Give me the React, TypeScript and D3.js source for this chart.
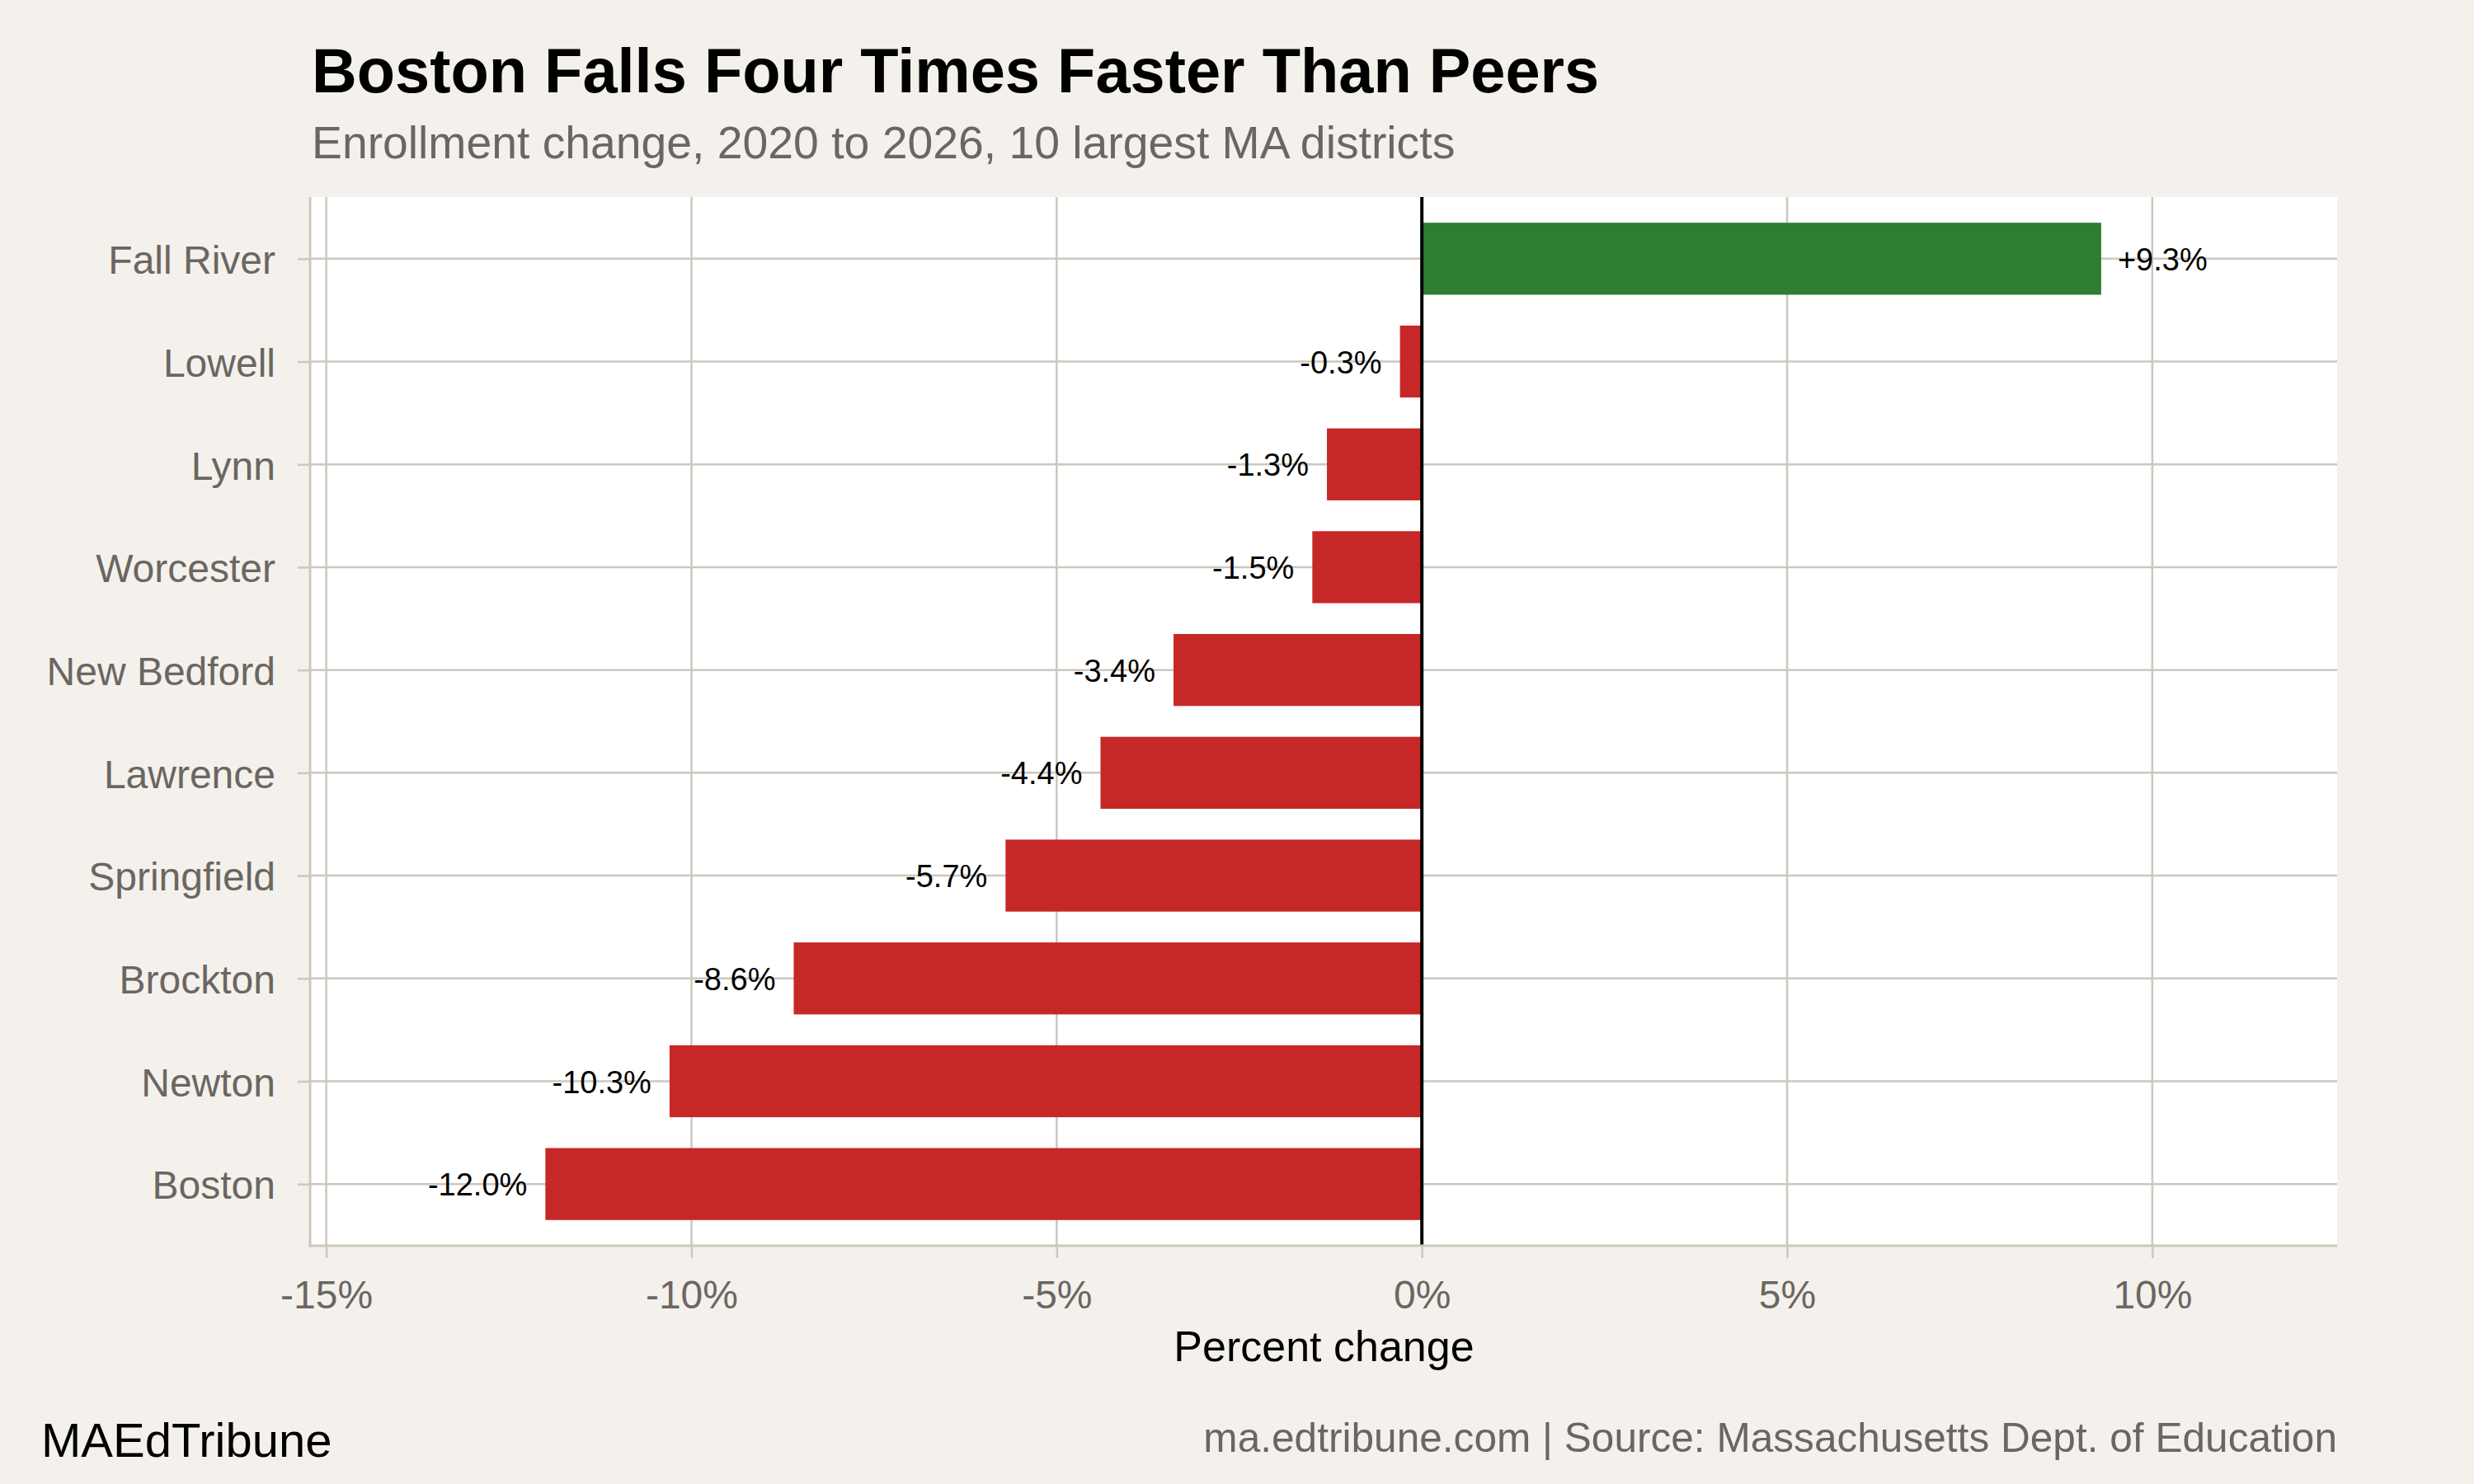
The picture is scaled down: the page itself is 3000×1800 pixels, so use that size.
import React, { useRef, useEffect } from "react";
import * as d3 from "d3";

const districts = [
  "Fall River",
  "Lowell",
  "Lynn",
  "Worcester",
  "New Bedford",
  "Lawrence",
  "Springfield",
  "Brockton",
  "Newton",
  "Boston",
];
const changes = [9.3, -0.3, -1.3, -1.5, -3.4, -4.4, -5.7, -8.6, -10.3, -12.0];
const xTicks = [-15, -10, -5, 0, 5, 10];

const width = 3000;
const height = 1800;
const panel = { left: 377, right: 2834, top: 239, bottom: 1511 };

const bg = "#f4f1ec";
const gridColor = "#cdc7bd";
const grayText = "#6b6661";
const font = "'Liberation Sans', Arial, Helvetica, sans-serif";

const App: React.FC = () => {
  const svgRef = useRef<SVGSVGElement | null>(null);

  useEffect(() => {
    if (!svgRef.current) return;
    const svg = d3.select(svgRef.current);
    svg.selectAll("*").remove();

    const x = d3
      .scaleLinear()
      .domain([-15.21, 12.53])
      .range([panel.left, panel.right]);

    // ggplot-style discrete axis: 0.6 unit padding each side
    const y = d3
      .scalePoint<string>()
      .domain(districts)
      .range([panel.top, panel.bottom])
      .padding(0.6);
    const step = y.step();
    const barH = step * 0.7;

    const data = districts.map((name, i) => ({ name, value: changes[i] }));

    svg.append("rect").attr("width", width).attr("height", height).attr("fill", bg);

    // panel
    svg
      .append("rect")
      .attr("x", panel.left)
      .attr("y", panel.top)
      .attr("width", panel.right - panel.left)
      .attr("height", panel.bottom - panel.top)
      .attr("fill", "#ffffff");

    // vertical grid
    svg
      .append("g")
      .selectAll("line")
      .data(xTicks)
      .join("line")
      .attr("x1", (d) => x(d))
      .attr("x2", (d) => x(d))
      .attr("y1", panel.top)
      .attr("y2", panel.bottom)
      .attr("stroke", gridColor)
      .attr("stroke-width", 2.5);

    // horizontal grid
    svg
      .append("g")
      .selectAll("line")
      .data(districts)
      .join("line")
      .attr("x1", panel.left)
      .attr("x2", panel.right)
      .attr("y1", (d) => y(d)!)
      .attr("y2", (d) => y(d)!)
      .attr("stroke", gridColor)
      .attr("stroke-width", 2.5);

    // bars
    svg
      .append("g")
      .selectAll("rect")
      .data(data)
      .join("rect")
      .attr("x", (d) => x(Math.min(0, d.value)))
      .attr("width", (d) => Math.abs(x(d.value) - x(0)))
      .attr("y", (d) => y(d.name)! - barH / 2)
      .attr("height", barH)
      .attr("fill", (d) => (d.value >= 0 ? "#2e7d32" : "#c62828"));

    // zero line
    svg
      .append("line")
      .attr("x1", x(0))
      .attr("x2", x(0))
      .attr("y1", panel.top)
      .attr("y2", panel.bottom)
      .attr("stroke", "#000")
      .attr("stroke-width", 4);

    // value labels
    svg
      .append("g")
      .selectAll("text")
      .data(data)
      .join("text")
      .attr("x", (d) => (d.value >= 0 ? x(d.value) + 20 : x(d.value) - 22))
      .attr("y", (d) => y(d.name)!)
      .attr("dy", "0.37em")
      .attr("text-anchor", (d) => (d.value >= 0 ? "start" : "end"))
      .attr("font-family", font)
      .attr("font-size", 38)
      .attr("fill", "#000")
      .text((d) => `${d.value >= 0 ? "+" : ""}${d.value.toFixed(1)}%`);

    // axis lines
    svg
      .append("line")
      .attr("x1", panel.left - 1)
      .attr("x2", panel.left - 1)
      .attr("y1", panel.top)
      .attr("y2", panel.bottom + 1.5)
      .attr("stroke", gridColor)
      .attr("stroke-width", 3);
    svg
      .append("line")
      .attr("x1", panel.left - 2.5)
      .attr("x2", panel.right)
      .attr("y1", panel.bottom)
      .attr("y2", panel.bottom)
      .attr("stroke", gridColor)
      .attr("stroke-width", 3);

    // y axis
    const yAxis = svg
      .append("g")
      .attr("transform", `translate(${panel.left - 1},0)`)
      .call(d3.axisLeft(y).tickSize(15).tickPadding(27));
    yAxis.select(".domain").remove();
    yAxis.selectAll("line").attr("stroke", gridColor).attr("stroke-width", 2.5);
    yAxis
      .selectAll("text")
      .attr("font-family", font)
      .attr("font-size", 48)
      .attr("fill", grayText)
      .attr("dy", "0.37em");

    // x axis
    const xAxis = svg
      .append("g")
      .attr("transform", `translate(0,${panel.bottom})`)
      .call(
        d3
          .axisBottom(x)
          .tickValues(xTicks)
          .tickSize(15)
          .tickPadding(61)
          .tickFormat((d) => `${d}%`)
      );
    xAxis.select(".domain").remove();
    xAxis.selectAll("line").attr("stroke", gridColor).attr("stroke-width", 2.5);
    xAxis
      .selectAll("text")
      .attr("font-family", font)
      .attr("font-size", 48)
      .attr("fill", grayText)
      .attr("dy", "0");

    // axis title
    svg
      .append("text")
      .attr("x", (panel.left + panel.right) / 2)
      .attr("y", 1651)
      .attr("text-anchor", "middle")
      .attr("font-family", font)
      .attr("font-size", 52)
      .attr("fill", "#000")
      .text("Percent change");

    // titles
    svg
      .append("text")
      .attr("x", 378)
      .attr("y", 112)
      .attr("font-family", font)
      .attr("font-weight", "bold")
      .attr("font-size", 75.8)
      .attr("fill", "#000")
      .text("Boston Falls Four Times Faster Than Peers");

    svg
      .append("text")
      .attr("x", 378)
      .attr("y", 192)
      .attr("font-family", font)
      .attr("font-size", 55.3)
      .attr("fill", grayText)
      .text("Enrollment change, 2020 to 2026, 10 largest MA districts");

    // captions
    svg
      .append("text")
      .attr("x", 50)
      .attr("y", 1767)
      .attr("font-family", font)
      .attr("font-size", 58)
      .attr("fill", "#000")
      .text("MAEdTribune");

    svg
      .append("text")
      .attr("x", panel.right)
      .attr("y", 1761)
      .attr("text-anchor", "end")
      .attr("font-family", font)
      .attr("font-size", 49.6)
      .attr("fill", grayText)
      .text("ma.edtribune.com | Source: Massachusetts Dept. of Education");
  }, []);

  return (
    <svg
      ref={svgRef}
      width={width}
      height={height}
      style={{ position: "absolute", left: 0, top: 0, display: "block" }}
    />
  );
};

export default App;
